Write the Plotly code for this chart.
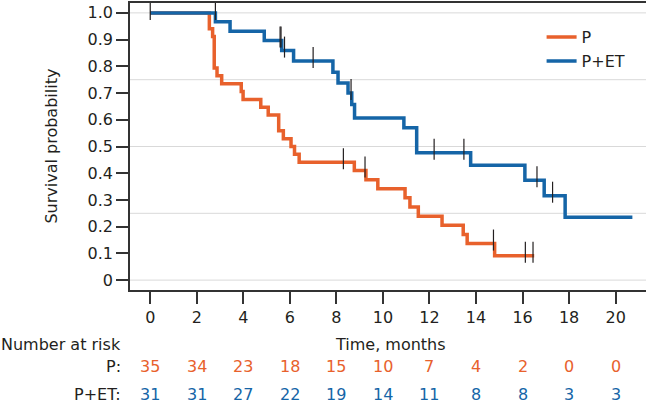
import plotly.graph_objects as go

# Kaplan-Meier step curves (time in months, survival)
P_TIME = [0, 2.54, 2.68, 2.75, 2.87, 3.07, 3.91, 3.99, 4.75, 5.07, 5.52, 5.72,
          6.05, 6.2, 6.4, 8.77, 9.27, 9.78, 10.95, 11.16, 11.52, 12.54, 13.45,
          13.62, 14.8, 16.5]
P_SURV = [1.0, 0.941, 0.912, 0.794, 0.765, 0.735, 0.706, 0.676, 0.647, 0.618,
          0.559, 0.529, 0.5, 0.471, 0.441, 0.41, 0.376, 0.342, 0.308, 0.274,
          0.239, 0.205, 0.171, 0.137, 0.091, 0.091]

PET_TIME = [0, 2.8, 3.43, 4.9, 5.65, 6.16, 7.85, 8.07, 8.5, 8.66, 8.78, 10.9,
            11.45, 13.77, 16.1, 16.93, 17.83, 20.72]
PET_SURV = [1.0, 0.967, 0.931, 0.897, 0.859, 0.82, 0.778, 0.738, 0.70, 0.657,
            0.607, 0.57, 0.477, 0.43, 0.374, 0.316, 0.235, 0.235]

# censored observations
P_CENS_T = [0, 8.3, 9.23, 14.75, 16.12, 16.45]
P_CENS_S = [1.0, 0.441, 0.41, 0.137, 0.091, 0.091]
PET_CENS_T = [2.8, 5.58, 5.62, 5.77, 7.0, 8.63, 12.2, 13.48, 16.62, 17.29]
PET_CENS_S = [1.0, 0.897, 0.897, 0.859, 0.82, 0.70, 0.477, 0.477, 0.374, 0.316]

# number at risk table
RISK_T = [0, 2, 4, 6, 8, 10, 12, 14, 16, 18, 20]
P_RISK = [35, 34, 23, 18, 15, 10, 7, 4, 2, 0, 0]
PET_RISK = [31, 31, 27, 22, 19, 14, 11, 8, 8, 3, 3]

Y_TICKS = [0, 0.1, 0.2, 0.3, 0.4, 0.5, 0.6, 0.7, 0.8, 0.9, 1.0]
Y_LABELS = ["0", "0.1", "0.2", "0.3", "0.4", "0.5", "0.6", "0.7", "0.8", "0.9", "1.0"]
GRID_Y = [0, 0.25, 0.5, 0.75, 1.0]

ORANGE = "#E8612C"
BLUE = "#1565A7"
INK = "#231F20"
FONT = "DejaVu Sans"
FS = 16
CENSOR_LIFT = 0.013  # censor ticks sit a little above the line

fig = go.Figure()

fig.add_trace(go.Scatter(x=P_TIME, y=P_SURV, name="P", mode="lines",
                         line=dict(color=ORANGE, width=3.5, shape="hv")))
fig.add_trace(go.Scatter(x=PET_TIME, y=PET_SURV, name="P+ET", mode="lines",
                         line=dict(color=BLUE, width=3.5, shape="hv")))

cens_t = P_CENS_T + PET_CENS_T
cens_s = [s + CENSOR_LIFT for s in P_CENS_S + PET_CENS_S]
fig.add_trace(go.Scatter(x=cens_t, y=cens_s, mode="markers", showlegend=False,
                         marker=dict(symbol="line-ns", size=15,
                                     line=dict(color=INK, width=1.2))))

for g in GRID_Y:
    fig.add_hline(y=g, line_color="#D9D9D9", line_width=1, layer="below")

fig.update_xaxes(
    range=[-0.87, 21.52], tickvals=RISK_T, ticks="outside", ticklen=12,
    tickwidth=1.5, tickcolor="#333", showline=True, linecolor="#333",
    linewidth=1.5, mirror=True, showgrid=False, zeroline=False,
    tickfont=dict(size=FS, color=INK, family=FONT),
)
fig.update_yaxes(
    range=[-0.037, 1.037], tickvals=Y_TICKS, ticktext=Y_LABELS,
    ticks="outside", ticklen=12, tickwidth=1.5, tickcolor="#333",
    showline=True, linecolor="#333", linewidth=1.5, mirror=True,
    showgrid=False, zeroline=False,
    tickfont=dict(size=FS, color=INK, family=FONT),
)

ann = [
    dict(text="Survival probability", x=-0.1515, y=0.5, textangle=-90,
         xanchor="center", yanchor="middle"),
    dict(text="Time, months", x=0.5, y=-0.19, xanchor="center", yanchor="middle"),
    dict(text="Number at risk", x=-0.2505, y=-0.19, xanchor="left", yanchor="middle"),
    dict(text="P:", x=-0.0136, y=-0.268, xanchor="right", yanchor="middle"),
    dict(text="P+ET:", x=-0.0136, y=-0.365, xanchor="right", yanchor="middle"),
]
for a in ann:
    a.update(xref="paper", yref="paper", showarrow=False,
             font=dict(size=FS, color=INK, family=FONT))
    fig.add_annotation(**a)

for t, p, b in zip(RISK_T, P_RISK, PET_RISK):
    fig.add_annotation(text=str(p), x=t, y=-0.268, xref="x", yref="paper",
                       showarrow=False, yanchor="middle",
                       font=dict(size=FS, color=ORANGE, family=FONT))
    fig.add_annotation(text=str(b), x=t, y=-0.365, xref="x", yref="paper",
                       showarrow=False, yanchor="middle",
                       font=dict(size=FS, color=BLUE, family=FONT))

# the page ends up ~8px narrower than the layout width, so widen it to
# keep the plot box running to the right edge of the window
fig.update_layout(
    width=654, height=405, autosize=False,
    margin=dict(l=130, r=1, t=1, b=115),
    plot_bgcolor="white", paper_bgcolor="white",
    legend=dict(x=0.79, y=0.94, xanchor="left", yanchor="top",
                bgcolor="rgba(0,0,0,0)", font=dict(size=FS, color=INK, family=FONT)),
)

# drop the default page margin/scrollbars so the figure fills the window exactly
page_fix = (
    "document.body.style.margin='0';"
    "document.body.style.overflow='hidden';"
)
fig.write_html("out.html", config={"displayModeBar": False, "responsive": False},
               post_script=page_fix)
